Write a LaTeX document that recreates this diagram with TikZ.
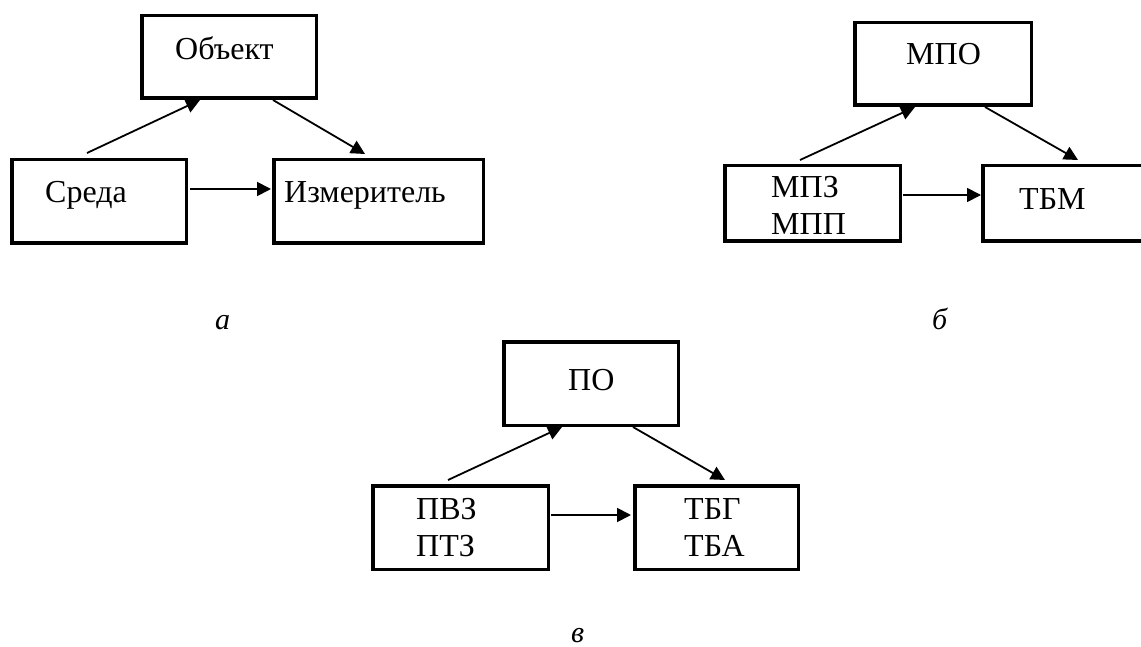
\documentclass[tikz,border=0pt]{standalone}
\usepackage{fontspec}
\setmainfont{Liberation Serif}
\usetikzlibrary{arrows.meta,calc}
\begin{document}
\begin{tikzpicture}[x=1pt,y=-1pt,
  box/.style={draw,line width=3.5pt,inner sep=0pt,minimum width=#1},
  arr/.style={line width=1.8pt,-{Triangle[length=14pt,width=14pt]}},
  txt/.style={anchor=base west,inner sep=0pt,font=\fontsize{32}{37}\selectfont},
  sublabel/.style={anchor=base west,inner sep=0pt,font=\fontsize{30}{36}\selectfont\itshape}]
\useasboundingbox (0,0) rectangle (1141,647);
\clip (0,0) rectangle (1141,647);
% panel a
\node[box=174.5pt,minimum height=82.5pt] (obj) at (229,57) {};
\node[box=174.5pt,minimum height=83.5pt] (sreda) at (99,201.5) {};
\node[box=209.5pt,minimum height=83.5pt] (izm) at (378.5,201.5) {};
\node[txt] (tobj) at (175,60) {Объект};
\node[txt] (tsreda) at (45,203) {Среда};
\node[txt] (tizm) at (284,203) {Измеритель};
\draw[arr] ($(sreda.north west)+(77,-5)$) -- ($(obj.south west)+(60,0)$);
\draw[arr] ($(obj.south west)+(133,0)$) -- ($(izm.north west)+(93,-4)$);
\draw[arr] ($(sreda.north east)+(2,31)$) -- ($(izm.north west)+(-1,31)$);
\node[sublabel] (la) at (215,329) {а};
% panel b
\node[box=176.5pt,minimum height=82.5pt] (mpo) at (943,64) {};
\node[box=175.5pt,minimum height=75.5pt] (mpz) at (812.5,203.5) {};
\node[box=175.5pt,minimum height=75.5pt] (tbm) at (1070.5,203.5) {};
\node[txt] (tmpo) at (906,65) {МПО};
\node[txt] (tmpz) at (771,198) {МПЗ};
\node[txt] (tmpp) at (771,235) {МПП};
\node[txt] (ttbm) at (1019,210) {ТБМ};
\draw[arr] ($(mpz.north west)+(77,-4)$) -- ($(mpo.south west)+(62,0)$);
\draw[arr] ($(mpo.south west)+(132,0)$) -- ($(tbm.north west)+(97,-4)$);
\draw[arr] ($(mpz.north east)+(1,31)$) -- ($(tbm.north west)+(0,31)$);
\node[sublabel] (lb) at (932,329) {б};
% panel c
\node[box=174.5pt,minimum height=83.5pt] (po) at (591,383.5) {};
\node[box=175.5pt,minimum height=83.5pt] (pvz) at (460.5,527.5) {};
\node[box=163.5pt,minimum height=83.5pt] (tbg) at (716.5,527.5) {};
\node[txt] (tpo) at (568,390) {ПО};
\node[txt] (tpvz) at (416,519) {ПВЗ};
\node[txt] (tptz) at (416,556) {ПТЗ};
\node[txt] (ttbg) at (684,519) {ТБГ};
\node[txt] (ttba) at (684,556) {ТБА};
\draw[arr] ($(pvz.north west)+(77,-4)$) -- ($(po.south west)+(60,0)$);
\draw[arr] ($(po.south west)+(131,0)$) -- ($(tbg.north west)+(92,-4)$);
\draw[arr] ($(pvz.north east)+(1,31)$) -- ($(tbg.north west)+(-2,31)$);
\node[sublabel] (lc) at (571,642) {в};
\end{tikzpicture}
\end{document}
